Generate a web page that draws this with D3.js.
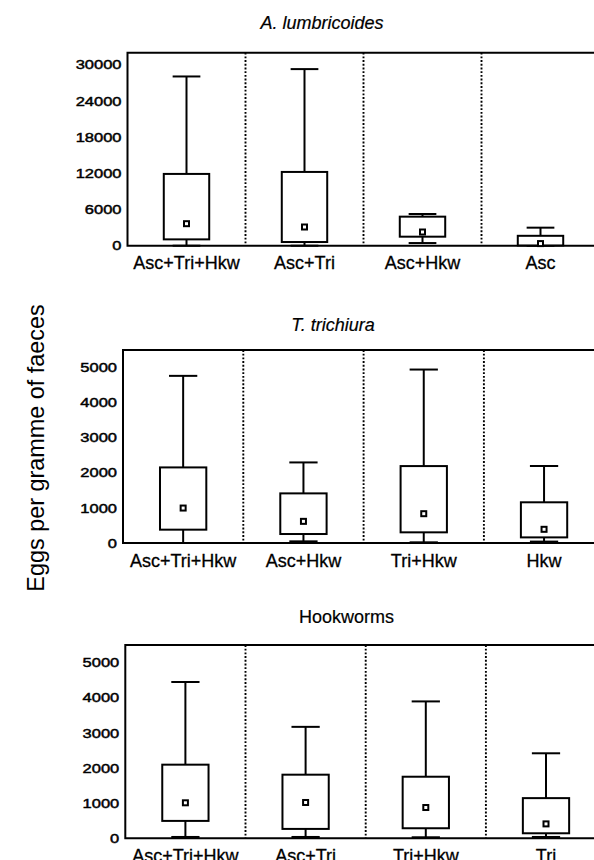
<!DOCTYPE html>
<html>
<head>
<meta charset="utf-8">
<script src="https://cdn.jsdelivr.net/npm/d3@7"></script>
<style>
  html, body { margin: 0; padding: 0; background: #fff; }
  svg { display: block; font-family: "Liberation Sans", Arial, Helvetica, sans-serif; }
</style>
</head>
<body>
<svg id="chart" width="594" height="860"></svg>
<script>
// ---- data: eggs per gramme of faeces, by infection group ----
const panelTitles = ["A. lumbricoides", "T. trichiura", "Hookworms"];
const yAxisTitle = "Eggs per gramme of faeces";

const ascCategories = ["Asc+Tri+Hkw", "Asc+Tri", "Asc+Hkw", "Asc"];
const ascLow    = [0, 0, 440, 0];
const ascQ1     = [1050, 610, 1495, 40];
const ascMedian = [3650, 3100, 2270, 350];
const ascQ3     = [11900, 12230, 4815, 1640];
const ascHigh   = [28060, 29280, 5260, 2990];
const ascTicks  = [0, 6000, 12000, 18000, 24000, 30000];

const triCategories = ["Asc+Tri+Hkw", "Asc+Hkw", "Tri+Hkw", "Hkw"];
const triLow    = [0, 47, 19, 40];
const triQ1     = [380, 256, 304, 160];
const triMedian = [996, 617, 835, 390];
const triQ3     = [2154, 1414, 2192, 1160];
const triHigh   = [4763, 2296, 4943, 2195];

const hkwCategories = ["Asc+Tri+Hkw", "Asc+Tri", "Tri+Hkw", "Tri"];
const hkwLow    = [38, 38, 29, 38];
const hkwQ1     = [495, 267, 286, 143];
const hkwMedian = [1010, 1019, 876, 410];
const hkwQ3     = [2095, 1810, 1752, 1143];
const hkwHigh   = [4448, 3171, 3895, 2419];
const eggTicks  = [0, 1000, 2000, 3000, 4000, 5000];

// ---- layout of the three stacked panels ----
const layout = [
  { top: 52.7, base: 245.7, left: 127.5, band: 118.0, yMax: 32000, titleX: 322,   titleY: 29.3,  italic: true },
  { top: 350.0, base: 543.0, left: 123.0, band: 120.3, yMax: 5500,  titleX: 333,   titleY: 330.5, italic: true },
  { top: 645.0, base: 838.3, left: 125.3, band: 120.2, yMax: 5500,  titleX: 346.5, titleY: 623.3, italic: false }
];

const panels = [
  { title: panelTitles[0], cats: ascCategories, low: ascLow, q1: ascQ1, med: ascMedian, q3: ascQ3, high: ascHigh, ticks: ascTicks },
  { title: panelTitles[1], cats: triCategories, low: triLow, q1: triQ1, med: triMedian, q3: triQ3, high: triHigh, ticks: eggTicks },
  { title: panelTitles[2], cats: hkwCategories, low: hkwLow, q1: hkwQ1, med: hkwMedian, q3: hkwQ3, high: hkwHigh, ticks: eggTicks }
];

const svg = d3.select("#chart");
const LINE = 2;

panels.forEach((p, i) => {
  const L = layout[i];
  const right = L.left + L.band * p.cats.length;

  const x = d3.scaleBand().domain(p.cats).range([L.left, right]).padding(0);
  const y = d3.scaleLinear().domain([0, L.yMax]).range([L.base, L.top]);

  const g = svg.append("g");

  // panel title
  g.append("text")
    .attr("x", L.titleX).attr("y", L.titleY)
    .attr("text-anchor", "middle")
    .attr("font-size", 18)
    .attr("font-style", L.italic ? "italic" : "normal")
    .attr("stroke", "#000").attr("stroke-width", 0.2)
    .text(p.title);

  // dotted separators between groups
  g.selectAll("line.sep").data(p.cats.slice(1)).join("line")
    .attr("class", "sep")
    .attr("x1", d => x(d)).attr("x2", d => x(d))
    .attr("y1", L.top).attr("y2", L.base)
    .attr("stroke", "#000").attr("stroke-width", 1.9)
    .attr("stroke-dasharray", "1.9,1.8");

  // frame: top, left and baseline (open on the right)
  g.append("path")
    .attr("d", `M${right},${L.top}H${L.left}V${L.base}H${right}`)
    .attr("fill", "none").attr("stroke", "#000").attr("stroke-width", LINE);

  // y axis labels
  const yAxis = d3.axisLeft(y).tickValues(p.ticks).tickSize(0).tickFormat(d3.format("d"));
  const ya = g.append("g").attr("transform", `translate(${L.left},0)`).call(yAxis);
  ya.select(".domain").remove();
  ya.selectAll("text")
    .attr("x", 0)
    .attr("transform", "translate(-6,0) scale(1.27,1)")
    .attr("font-size", 13)
    .attr("font-family", null)
    .attr("fill", "#000")
    .attr("stroke", "#000").attr("stroke-width", 0.45);

  // category labels
  const xAxis = d3.axisBottom(x).tickSize(0).tickPadding(11);
  const xa = g.append("g").attr("transform", `translate(0,${L.base})`).call(xAxis);
  xa.select(".domain").remove();
  xa.selectAll("text")
    .attr("font-size", 18)
    .attr("font-family", null)
    .attr("fill", "#000")
    .attr("stroke", "#000").attr("stroke-width", 0.3);

  // box plots
  const idx = d3.range(p.cats.length);
  const bw = L.band * 0.385;
  const cw = L.band * 0.235;
  const cx = k => x(p.cats[k]) + x.bandwidth() / 2;

  const box = g.selectAll("g.box").data(idx).join("g").attr("class", "box");

  box.append("line")  // upper whisker
    .attr("x1", cx).attr("x2", cx)
    .attr("y1", k => y(p.q3[k])).attr("y2", k => y(p.high[k]));
  box.append("line")  // lower whisker
    .attr("x1", cx).attr("x2", cx)
    .attr("y1", k => y(p.q1[k])).attr("y2", k => y(p.low[k]));
  box.append("line")  // upper cap
    .attr("x1", k => cx(k) - cw / 2).attr("x2", k => cx(k) + cw / 2)
    .attr("y1", k => y(p.high[k])).attr("y2", k => y(p.high[k]));
  box.append("line")  // lower cap
    .attr("x1", k => cx(k) - cw / 2).attr("x2", k => cx(k) + cw / 2)
    .attr("y1", k => y(p.low[k])).attr("y2", k => y(p.low[k]));
  box.selectAll("line").attr("stroke", "#000").attr("stroke-width", LINE);

  box.append("rect")  // interquartile box
    .attr("x", k => cx(k) - bw / 2).attr("width", bw)
    .attr("y", k => y(p.q3[k])).attr("height", k => y(p.q1[k]) - y(p.q3[k]))
    .attr("fill", "#fff").attr("stroke", "#000").attr("stroke-width", LINE);

  box.append("rect")  // median marker
    .attr("x", k => cx(k) - 2.5).attr("width", 5)
    .attr("y", k => y(p.med[k]) - 2.5).attr("height", 5)
    .attr("fill", "#fff").attr("stroke", "#000").attr("stroke-width", 2);
});

// shared y-axis title
svg.append("text")
  .attr("transform", "translate(44,448) rotate(-90)")
  .attr("text-anchor", "middle")
  .attr("font-size", 23.4)
  .text(yAxisTitle);
</script>
</body>
</html>
